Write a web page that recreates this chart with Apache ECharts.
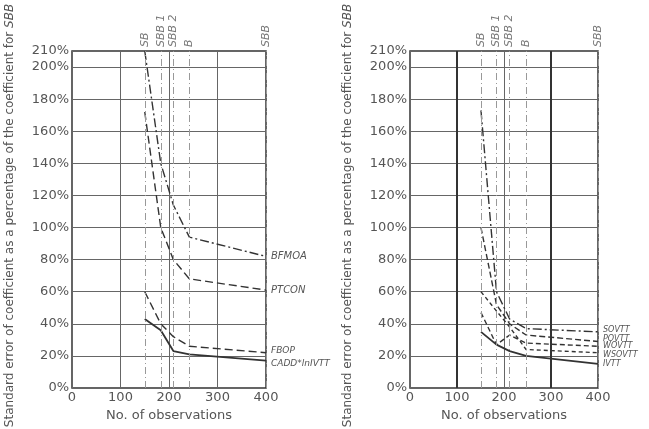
<!DOCTYPE html>
<html><head><meta charset="utf-8">
<script src="https://cdn.jsdelivr.net/npm/echarts@6/dist/echarts.min.js"></script>
<style>html,body{margin:0;padding:0;background:#fff}#c{width:649px;height:429px}</style>
</head><body><div id="c"></div>
<script>
// ---- data ----
const xTicks = [0, 100, 200, 300, 400];
const markerNames = ['SB', 'SBB 1', 'SBB 2', 'B', 'SBB'];
const leftMarkerX = [150, 183, 209, 242, 400];
const rightMarkerX = [151, 184, 212, 247, 400];

const leftNames = ['BFMOA', 'PTCON', 'FBOP', 'CADD*lnIVTT'];
const leftX = [150, 183, 209, 242, 400];
const bfmoa = [210, 140, 114, 94, 82];
const ptcon = [172, 100, 80, 68, 61];
const fbop = [60, 40, 32, 26, 22];
const caddLnIvtt = [43, 36, 23, 21, 17];

const rightNames = ['SOVTT', 'POVTT', 'WOVTT', 'WSOVTT', 'IVTT'];
const rightX = [151, 184, 212, 247, 400];
const sovtt = [173, 60, 43, 37, 35];
const povtt = [100, 52, 40, 33, 29];
const wovtt = [47, 27, 33, 28, 26];
const wsovtt = [60, 48, 38, 24, 22];
const ivtt = [35, 27, 23, 20, 15];
const boldGridX = [100, 300];

// ---- styling ----
const FONT = 'DejaVu Sans';
const INK = '#333';
const TXT = '#555';
const yTitle = 'Standard error of coefficient as a percentage of the coefficient for {i|SBB}';

function pairs(xs, ys) { return xs.map((x, i) => [x, ys[i]]); }

function lineSeries(idx, name, xs, ys, dash, fs, dy, width) {
  return {
    type: 'line', name: name, xAxisIndex: idx, yAxisIndex: idx,
    data: pairs(xs, ys), symbol: 'none', silent: true, animation: false,
    lineStyle: { color: INK, width: width || 1.4, type: dash },
    endLabel: { show: true, formatter: '{a}', fontFamily: FONT, fontStyle: 'italic',
      fontSize: fs, color: TXT, distance: 5, offset: [0, dy] }
  };
}

function markerSeries(idx, xs) {
  return {
    type: 'scatter', xAxisIndex: idx, yAxisIndex: idx, silent: true, animation: false,
    symbolSize: 0,
    data: xs.map((x, i) => ({ value: [x, 210], name: markerNames[i] })),
    label: { show: true, position: 'top', rotate: 90, align: 'left', verticalAlign: 'middle',
      distance: 4, formatter: '{b}', fontFamily: FONT, fontStyle: 'italic', fontSize: 11, color: TXT },
    markLine: { silent: true, symbol: 'none', animation: false, label: { show: false },
      lineStyle: { color: '#999', width: 1, type: [7, 3, 1, 3] },
      data: xs.map(x => ({ xAxis: x })) }
  };
}

function xAxis(idx) {
  return {
    type: 'value', gridIndex: idx, min: 0, max: 400, interval: 100,
    name: 'No. of observations', nameLocation: 'middle', nameGap: 21,
    nameTextStyle: { fontFamily: FONT, fontSize: 13, color: TXT },
    axisLine: { show: false }, axisTick: { show: false },
    axisLabel: { fontFamily: FONT, fontSize: 13, color: TXT, margin: 3 },
    splitLine: { show: true, lineStyle: { color: '#666', width: 1 } }
  };
}
function yAxis(idx) {
  return {
    type: 'value', gridIndex: idx, min: 0, max: 210, interval: 20,
    name: yTitle, nameLocation: 'middle', nameGap: 56, nameRotate: 90,
    nameTextStyle: { fontFamily: FONT, fontSize: 12, color: TXT, padding: [0, 0, 0, 8], rich: { i: { fontStyle: 'italic', fontFamily: FONT, fontSize: 12, color: TXT } } },
    axisLine: { show: false }, axisTick: { show: false },
    axisLabel: { fontFamily: FONT, fontSize: 13, color: TXT, margin: 3, formatter: '{value}%' },
    splitLine: { show: true, lineStyle: { color: '#666', width: 1 } }
  };
}

const chart = echarts.init(document.getElementById('c'), null, { renderer: 'canvas' });
chart.setOption({
  backgroundColor: '#fff',
  animation: false,
  grid: [
    { left: 72, top: 51, width: 194, height: 337, show: true, borderColor: INK, borderWidth: 1.5, backgroundColor: 'transparent', outerBoundsMode: 'none' },
    { left: 410, top: 51, width: 188, height: 337, show: true, borderColor: INK, borderWidth: 1.5, backgroundColor: 'transparent', outerBoundsMode: 'none' }
  ],
  xAxis: [xAxis(0), xAxis(1)],
  yAxis: [yAxis(0), yAxis(1)],
  series: [
    markerSeries(0, leftMarkerX),
    markerSeries(1, rightMarkerX),
    {
      type: 'line', xAxisIndex: 1, yAxisIndex: 1, data: [], silent: true,
      markLine: { silent: true, symbol: 'none', animation: false, label: { show: false },
        lineStyle: { color: INK, width: 2, type: 'solid' },
        data: boldGridX.map(x => ({ xAxis: x })) }
    },
    lineSeries(0, leftNames[0], leftX, bfmoa, [9, 3, 2, 3], 10, 0),
    lineSeries(0, leftNames[1], leftX, ptcon, [8, 4], 10, 0),
    lineSeries(0, leftNames[2], leftX, fbop, [8, 4], 9, -2),
    lineSeries(0, leftNames[3], leftX, caddLnIvtt, 'solid', 9, 3, 1.8),
    lineSeries(1, rightNames[0], rightX, sovtt, [9, 3, 2, 3], 8, -2),
    lineSeries(1, rightNames[1], rightX, povtt, [6, 3], 8, -3),
    lineSeries(1, rightNames[2], rightX, wovtt, [5, 3], 8, 0),
    lineSeries(1, rightNames[3], rightX, wsovtt, [4, 3], 8, 2),
    lineSeries(1, rightNames[4], rightX, ivtt, 'solid', 8, 0, 1.8)
  ]
});
</script></body></html>
